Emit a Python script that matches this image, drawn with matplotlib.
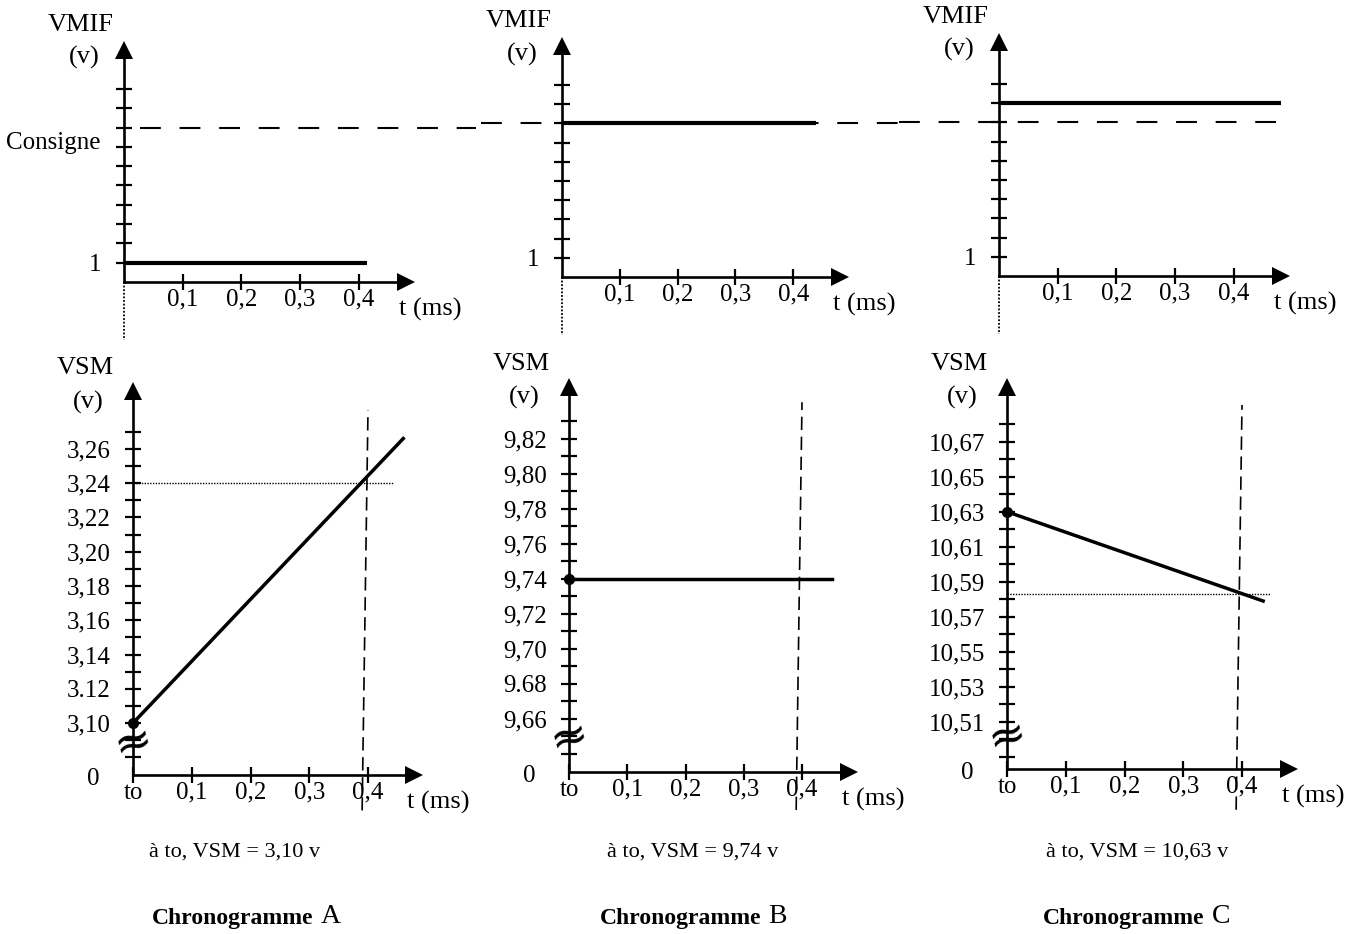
import matplotlib as mpl
import matplotlib.pyplot as plt
import numpy as np

W, H = 1346, 934
mpl.rcParams['font.family'] = ['Liberation Serif', 'DejaVu Serif']
mpl.rcParams['font.size'] = 17

# ---- values ----
names = ['A', 'B', 'C']

# time axis (ms)
t_ticks = [0.1, 0.2, 0.3, 0.4]
t_labels = ['0,1', '0,2', '0,3', '0,4']

# top row : VMIF (one tick per unit, consigne on the 8th tick)
vmif_ticks = [1, 2, 3, 4, 5, 6, 7, 8, 9, 10]
consigne = 8
vmif_level = [1, 8, 9]
vmif_t_end = [0.414, 0.44, 0.48]
consigne_t = [[0.027, 0.60], [-0.14, 0.585], [-0.17, 0.48]]
origin_drop = [0, -3.0]

# bottom row : VSM (V)
vsm_t = [[0, 0.46], [0, 0.451], [0, 0.436]]
vsm_v = [[3.10, 3.266], [9.74, 9.74], [10.63, 10.579]]
vsm_read = [3.24, None, 10.583]        # value read at t = 0.4 ms
vsm_read_t_end = [0.444, None, 0.448]
vsm_major = [[3.10, 3.12, 3.14, 3.16, 3.18, 3.20, 3.22, 3.24, 3.26],
             [9.66, 9.68, 9.70, 9.72, 9.74, 9.76, 9.78, 9.80, 9.82],
             [10.51, 10.53, 10.55, 10.57, 10.59, 10.61, 10.63, 10.65, 10.67]]
vsm_labels = [['3,10', '3.12', '3,14', '3,16', '3,18', '3,20', '3,22', '3,24', '3,26'],
              ['9,66', '9.68', '9,70', '9,72', '9,74', '9,76', '9,78', '9,80', '9,82'],
              ['10,51', '10,53', '10,55', '10,57', '10,59', '10,61', '10,63', '10,65', '10,67']]
vsm_minor_range = [(3.08, 3.27), (9.64, 9.83), (10.49, 10.68)]
vsm_break = [3.088, 9.649, 10.501]
mark_t = [0.39, 0.40]                  # the slightly slanted 0,4 ms marker
vsm_at_to = ['3,10', '9,74', '10,63']

# ---- page geometry (pixels, origin top-left) ----
top_geo = [(124, 282, 587, 19.3, 0, 0.496, 12.5),
           (562, 277, 578, 19.2, 0, 0.497, 12.5),
           (999, 276, 587, 19.2, 0, 0.495, 12.66)]
bot_geo = [(133, 775, 587.5, 1714, 3.0697, 0.494, 3.299),
           (569, 772, 582.5, 1750, 9.6297, 0.496, 9.855),
           (1007, 769, 587.5, 1750, 10.483, 0.495, 10.7066)]
mark_y = [(3.049, 3.2826), (9.608, 9.841), (10.4597, 10.691)]

fig = plt.figure(figsize=(W / 100, H / 100), dpi=100)
head = 9  # half length of the arrow heads, px


def make_axes(ox, oy, sx, sy, ybot, t_tip, v_tip):
    xtop = t_tip - head / sx
    ytop = v_tip - head / sy
    ax = fig.add_axes([ox / W, (H - oy) / H, xtop * sx / W, (ytop - ybot) * sy / H])
    ax.set_xlim(0, xtop)
    ax.set_ylim(ybot, ytop)
    ax.patch.set_visible(False)
    for s in ['top', 'right']:
        ax.spines[s].set_visible(False)
    for s in ['left', 'bottom']:
        ax.spines[s].set_linewidth(1.9)
    ax.tick_params(which='both', direction='inout', length=12, width=1.6,
                   labelsize=18)
    ax.tick_params(axis='x', pad=-1)
    ax.tick_params(axis='y', pad=10)
    ax.plot(xtop, ybot, '>', color='k', ms=13, mew=0, clip_on=False)
    ax.plot(0, ytop, '^', color='k', ms=13, mew=0, clip_on=False)
    ax.annotate('t (ms)', xy=(t_tip, ybot), xytext=(-16, -27),
                textcoords='offset pixels', ha='left', va='center',
                fontsize=19, annotation_clip=False)
    return ax


def ylabel(ax, name, v_tip, dx, dy):
    ax.annotate(name, xy=(0, v_tip), xytext=(dx, dy[0]), textcoords='offset pixels',
                ha='center', va='center', fontsize=19, annotation_clip=False)
    ax.annotate('(v)', xy=(0, v_tip), xytext=(dx + 3, dy[1]), textcoords='offset pixels',
                ha='center', va='center', fontsize=19, annotation_clip=False)


# ---- top row ----
for i in range(3):
    ox, oy, sx, sy, ybot, t_tip, v_tip = top_geo[i]
    ax = make_axes(*top_geo[i])
    ax.set_xticks(t_ticks, t_labels)
    ax.set_yticks(vmif_ticks, ['1'] + [''] * (len(vmif_ticks) - 1))
    ax.plot(consigne_t[i], [consigne, consigne], color='k', lw=1.5,
            dashes=(10, 9), clip_on=False, zorder=1)
    ax.plot([0, vmif_t_end[i]], [vmif_level[i], vmif_level[i]], color='k',
            lw=3.0, solid_capstyle='butt', clip_on=False, zorder=3)
    ax.plot([0, 0], origin_drop, color='k', lw=1.3, ls=(0, (1, 1)), clip_on=False)
    ylabel(ax, 'VMIF', v_tip, -43, (16, -17))
    if i == 0:
        ax.annotate('Consigne', xy=(0, consigne), xytext=(-24, -15),
                    textcoords='offset pixels', ha='right', va='center',
                    fontsize=18, annotation_clip=False)

# ---- bottom row ----
for i in range(3):
    ox, oy, sx, sy, ybot, t_tip, v_tip = bot_geo[i]
    ax = make_axes(*bot_geo[i])
    ax.set_xticks([0] + t_ticks, ['to'] + t_labels)
    ax.set_yticks(vsm_major[i], vsm_labels[i])
    lo, hi = vsm_minor_range[i]
    ax.set_yticks(np.round(np.arange(lo, hi + 0.001, 0.01), 2), minor=True)
    ax.plot(vsm_t[i], vsm_v[i], color='k', lw=2.5, clip_on=False, zorder=3)
    ax.plot(vsm_t[i][0], vsm_v[i][0], 'o', color='k', ms=7, clip_on=False, zorder=4)
    ax.plot(mark_t, mark_y[i], color='k', lw=1.2, dashes=(8, 4), clip_on=False)
    if vsm_read[i] is not None:
        ax.plot([0, vsm_read_t_end[i]], [vsm_read[i], vsm_read[i]], color='k',
                lw=1.0, ls=(0, (1, 1)), clip_on=False)
    ax.text(0, vsm_break[i], '\u2248', fontsize=33, rotation=15,
            family='DejaVu Sans', ha='center', va='center', clip_on=False)
    ax.annotate('0', xy=(0, ybot), xytext=(-40, -4), textcoords='offset pixels',
                ha='center', va='center', fontsize=18, annotation_clip=False)
    ylabel(ax, 'VSM', v_tip, -48, (14, -20))

# ---- captions ----
cap_x = [235, 693, 1137]
title_x = [152, 600, 1043]
for i in range(3):
    fig.text(cap_x[i] / W, 1 - 857 / H, 'à to, VSM = %s v' % vsm_at_to[i],
             ha='center', va='baseline', fontsize=16)
    t1 = fig.text(title_x[i] / W, 1 - 924 / H, 'Chronogramme', ha='left',
                  va='baseline', fontsize=17, fontweight='bold')
    fig.axes[0].annotate(names[i], xy=(1, 0), xycoords=t1, xytext=(5, 0),
                         textcoords='offset points', ha='left', va='bottom',
                         fontsize=20, annotation_clip=False)

fig.savefig('out.png', dpi=100)
